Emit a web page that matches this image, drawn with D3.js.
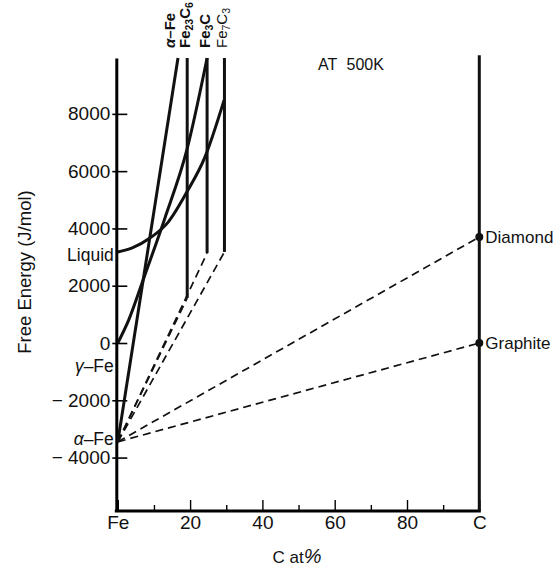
<!DOCTYPE html>
<html>
<head>
<meta charset="utf-8">
<script src="https://cdn.jsdelivr.net/npm/d3@7"></script>
<style>
body { margin: 0; background: #fff; }
text { font-family: "Liberation Sans", Arial, sans-serif; fill: #111; }
</style>
</head>
<body>
<svg id="chart" width="560" height="569"></svg>
<script>
// Free energy (J/mol) against C at%, at 500K
const alphaFe = [[0, -3450], [16.65, 9950]];
const gammaFe = [[0, 0], [3, 800], [7, 2200], [13, 4350], [19.1, 6740], [24.7, 9950]];
const liquid = [[0, 3180], [4, 3320], [8.9, 3665], [14, 4230], [19.1, 5270], [24.1, 6490], [29.4, 8480]];

const carbideNames = ["Fe23C6", "Fe3C", "Fe7C3"];
const carbideC = [19.2, 24.7, 29.5];
const carbideG = [1570, 3140, 3180];
const carbideTop = 9950;

const carbonNames = ["Diamond", "Graphite"];
const carbonG = [3700, 0];

const yTicks = [8000, 6000, 4000, 2000, 0, -2000, -4000];
const xTicks = [0, 20, 40, 60, 80, 100];
const xMinor = [10, 30, 50, 70, 90];

const svg = d3.select("#chart");

const x = d3.scaleLinear().domain([0, 100]).range([117.8, 479.3]);
const y = d3.scaleLinear().domain([-5865, 9950]).range([511, 58]);

const line = d3.line().x(d => x(d[0])).y(d => y(d[1]));
const curve = d3.line().x(d => x(d[0])).y(d => y(d[1])).curve(d3.curveMonotoneX);

// axes
const yAxis = svg.append("g")
  .attr("transform", `translate(${x(0) - 1.5},0)`)
  .call(d3.axisLeft(y).tickValues(yTicks).tickSize(-11).tickSizeOuter(0).tickPadding(6)
    .tickFormat(d => d < 0 ? "\u2212 " + Math.abs(d) : d));
yAxis.select(".domain").attr("stroke-width", 3);
yAxis.selectAll(".tick line").attr("stroke-width", 1.6).attr("x1", -4);
yAxis.selectAll(".tick text").attr("font-size", 19).attr("fill", "#111");

const xAxis = svg.append("g")
  .attr("transform", `translate(0,${y(-5865)})`)
  .call(d3.axisBottom(x).tickValues(xTicks).tickSize(-11).tickSizeOuter(0).tickPadding(5)
    .tickFormat(d => d === 0 ? "Fe" : d === 100 ? "C" : d));
xAxis.select(".domain").attr("stroke-width", 3).attr("d", `M${x(0) - 3},0H${x(100) + 1.5}`);
xAxis.selectAll(".tick line").attr("stroke-width", 1.4);
xAxis.selectAll(".tick text").attr("font-size", 19).attr("fill", "#111");

svg.append("g")
  .attr("transform", `translate(0,${y(-5865)})`)
  .call(d3.axisBottom(x).tickValues(xMinor).tickSize(-6).tickFormat(""))
  .call(g => g.select(".domain").remove())
  .selectAll(".tick line").attr("stroke-width", 1.4);

// right (pure carbon) axis
svg.append("line")
  .attr("x1", x(100)).attr("x2", x(100))
  .attr("y1", y(10050)).attr("y2", y(-5865))
  .attr("stroke", "#111").attr("stroke-width", 3);

// dashed tangents from alpha-Fe
const a0 = alphaFe[0];
const tangents = carbideC.map((c, i) => [a0, [c, carbideG[i]]])
  .concat(carbonG.map(g => [a0, [100, g]]));
svg.append("g").selectAll("path").data(tangents).join("path")
  .attr("d", line)
  .attr("fill", "none").attr("stroke", "#111")
  .attr("stroke-width", 1.7).attr("stroke-dasharray", "8,5");

// carbide lines
svg.append("g").selectAll("path").data(carbideC).join("path")
  .attr("d", (c, i) => line([[c, carbideG[i]], [c, carbideTop]]))
  .attr("stroke", "#111").attr("stroke-width", 3);

// phase curves
svg.append("path").attr("d", line(alphaFe))
  .attr("fill", "none").attr("stroke", "#111").attr("stroke-width", 3);
[gammaFe, liquid].forEach(s => {
  svg.append("path").attr("d", curve(s))
    .attr("fill", "none").attr("stroke", "#111").attr("stroke-width", 3);
});

// diamond / graphite points
svg.append("g").selectAll("circle").data(carbonG).join("circle")
  .attr("cx", x(100)).attr("cy", d => y(d)).attr("r", 4).attr("fill", "#111");
svg.append("g").selectAll("text").data(carbonNames).join("text")
  .attr("x", x(100) + 6).attr("y", (d, i) => y(carbonG[i]))
  .attr("dy", "0.35em").attr("font-size", 17).text(d => d);

// labels on the Fe side
const leftLabels = [["Liquid", liquid[0][1] - 100], ["\u03b3\u2013Fe", -800], ["\u03b1\u2013Fe", alphaFe[0][1] + 100]];
svg.append("g").selectAll("text").data(leftLabels).join("text")
  .attr("x", x(0) - 4).attr("y", d => y(d[1]))
  .attr("dy", "0.33em").attr("text-anchor", "end").attr("font-size", 17.5)
  .each(function(d) {
    const t = d3.select(this);
    if (d[0] === "Liquid") { t.text(d[0]); return; }
    t.append("tspan").attr("font-style", "italic").text(d[0][0]);
    t.append("tspan").text(d[0].slice(1));
  });

// rotated labels at the top of each line
const topLabels = [
  { parts: [["\u03b1", "i"], ["\u2013Fe", ""]], c: alphaFe[1][0], dx: -3, bold: true },
  { parts: [["Fe", ""], ["23", "s"], ["C", ""], ["6", "s"]], c: carbideC[0], dx: 3, bold: true },
  { parts: [["Fe", ""], ["3", "s"], ["C", ""]], c: carbideC[1], dx: 3, bold: true },
  { parts: [["Fe", ""], ["7", "s"], ["C", ""], ["3", "s"]], c: carbideC[2], dx: 3, bold: false }
];
topLabels.forEach(l => {
  const t = svg.append("text")
    .attr("transform", `translate(${x(l.c) + l.dx},48) rotate(-90)`)
    .attr("font-size", 15)
    .attr("font-weight", l.bold ? "bold" : "normal");
  let sub = false;
  l.parts.forEach(p => {
    const s = t.append("tspan").text(p[0]);
    if (p[1] === "i") s.attr("font-style", "italic");
    if (p[1] === "s") { s.attr("font-size", 10.5).attr("dy", sub ? 0 : 3); sub = true; }
    else if (sub) { s.attr("dy", -3); sub = false; }
  });
});

// titles
svg.append("text").attr("x", 351).attr("y", 70)
  .attr("text-anchor", "middle").attr("font-size", 16).attr("word-spacing", 5)
  .text("AT 500K");

svg.append("text")
  .attr("transform", "translate(31,272) rotate(-90)")
  .attr("text-anchor", "middle").attr("font-size", 18.5)
  .text("Free Energy (J/mol)");

const xl = svg.append("text").attr("x", 297).attr("y", 563)
  .attr("text-anchor", "middle").attr("font-size", 17);
xl.append("tspan").text("C  at");
xl.append("tspan").attr("font-size", 20).attr("font-style", "italic").text("%");
</script>
</body>
</html>
